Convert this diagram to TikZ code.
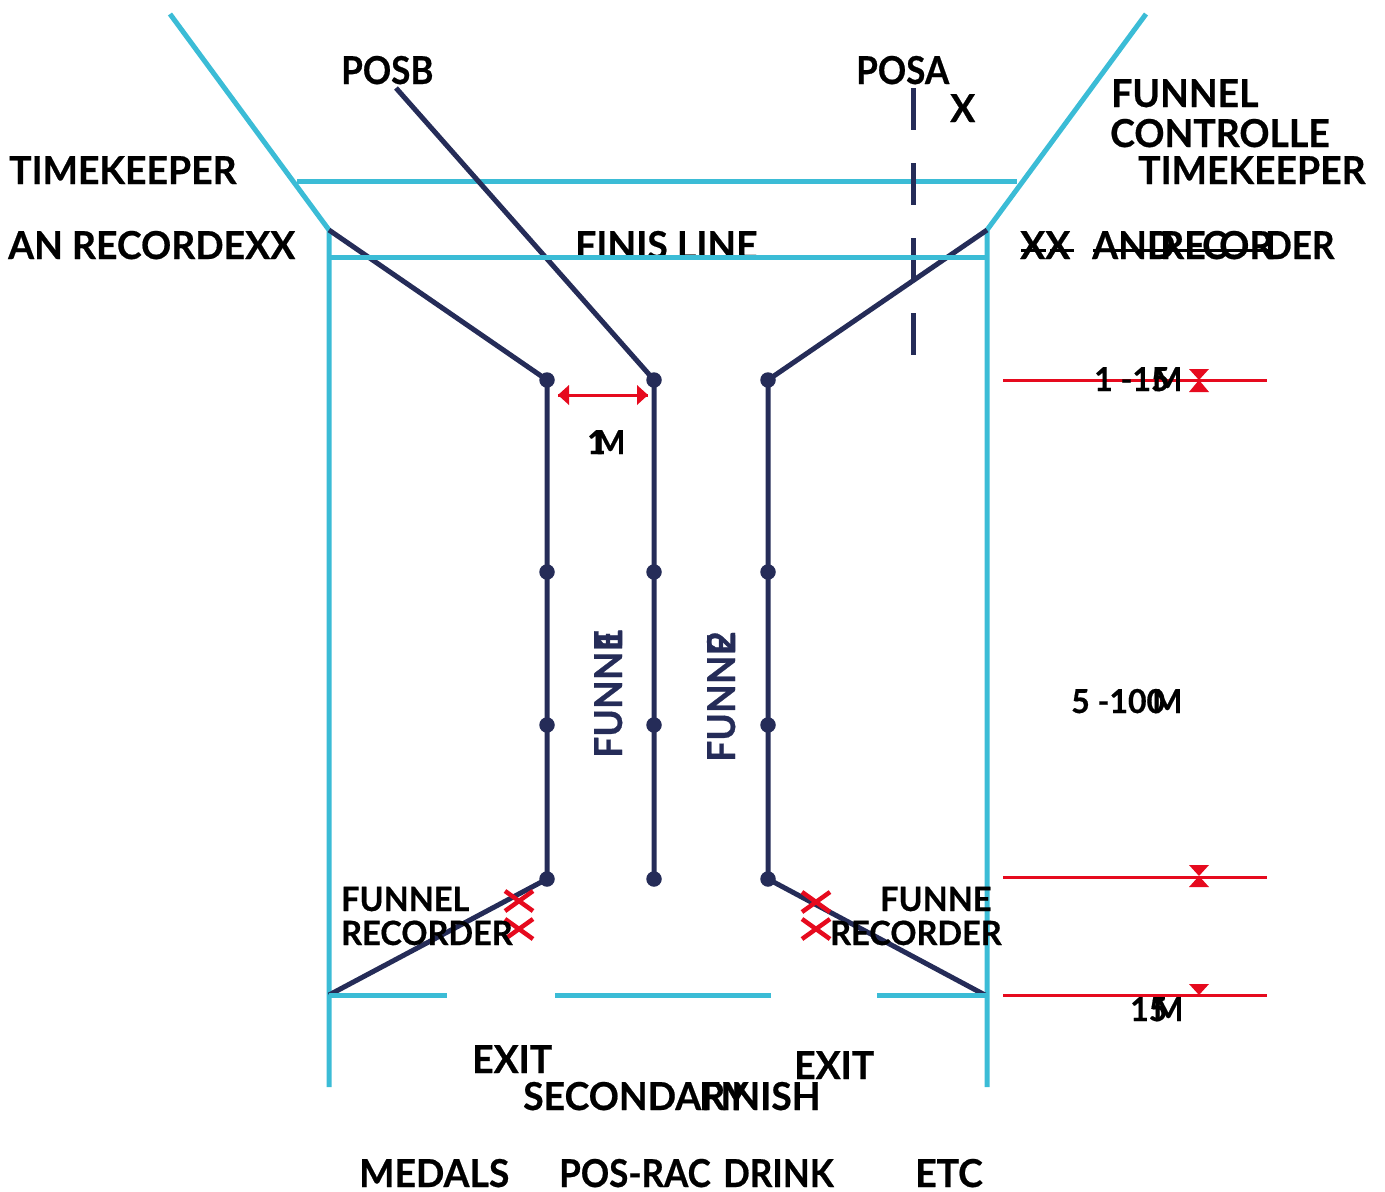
\documentclass[tikz,border=0pt]{standalone}
\usepackage{fontspec}
\setmainfont{Lato}[BoldFeatures={FakeStretch=0.97,FakeBold=0.5}]
\newfontfamily\nf{Lato}[BoldFeatures={FakeStretch=0.91,FakeBold=0.5}]
\definecolor{cy}{HTML}{3BBCD6}
\definecolor{nv}{HTML}{252C58}
\definecolor{rd}{HTML}{E60A1E}
\tikzset{x=1pt,y=-1pt,
 tx/.style={anchor=base west,inner sep=0,xshift=-1pt,font=\fontsize{38.5}{38.5}\selectfont\bfseries,text=black},
 tn/.style={tx,font=\nf\fontsize{38.5}{38.5}\selectfont\bfseries},
 ts/.style={tx,font=\fontsize{33.5}{33.5}\selectfont\bfseries},
 tm/.style={tx,font=\fontsize{33}{33}\selectfont\bfseries},
 cyl/.style={draw=cy,line width=5pt},
 nvl/.style={draw=nv,line width=5pt},
 rdl/.style={draw=rd,line width=3pt},
 dot/.style={circle,fill=nv,inner sep=0,minimum size=15.5pt},
 tri/.style={fill=rd}}
\begin{document}
\begin{tikzpicture}
\useasboundingbox (0,0) rectangle (1385,1192);
\node[tx] (finis) at (576,259) {FINIS LINE};
\fill[white] (560,261) rectangle (770,275);
% points
\coordinate (lt) at (170,14); \coordinate (lk) at (329,230); \coordinate (lb) at (329,1087);
\coordinate (rt) at (1146,14); \coordinate (rk) at (987,230); \coordinate (rb) at (987,1087);
\coordinate (h1a) at (297,181); \coordinate (h1b) at (1017,181);
\coordinate (h2a) at (329,257); \coordinate (h2b) at (987,257);
\coordinate (b1a) at (329,995); \coordinate (b1b) at (447,995);
\coordinate (b2a) at (555,995); \coordinate (b2b) at (771,995);
\coordinate (b3a) at (877,995); \coordinate (b3b) at (987,995);
\coordinate (ct) at (396,88); \coordinate (re) at (985,995);
\coordinate (da) at (913,88); \coordinate (db) at (913,355);
\foreach \n/\x in {a/547,b/654,c/768}{
 \node[dot] (\n1) at (\x,380) {};
 \node[dot] (\n2) at (\x,572) {};
 \node[dot] (\n3) at (\x,725) {};
 \node[dot] (\n4) at (\x,879) {};
}
\draw[cyl] (lt) -- (lk) -- (lb);
\draw[cyl] (rt) -- (rk) -- (rb);
\draw[cyl] (h1a) -- (h1b);
\draw[nvl] (lk) -- (a1.center) -- (a2.center) -- (a3.center) -- (a4.center) -- (b1a);
\draw[nvl] (ct) -- (b1.center) -- (b2.center) -- (b3.center) -- (b4.center);
\draw[nvl] (rk) -- (c1.center) -- (c2.center) -- (c3.center) -- (c4.center) -- (re);
\draw[nvl,dash pattern=on 42pt off 33pt] (da) -- (db);
\draw[cyl] (h2a) -- (h2b);
\draw[cyl] (b1a) -- (b1b);
\draw[cyl] (b2a) -- (b2b);
\draw[cyl] (b3a) -- (b3b);
% red
\foreach \n/\y in {p/380,q/877,r/995}{
 \coordinate (\n a) at (1003,\y); \coordinate (\n b) at (1267,\y);
 \draw[rdl] (\n a) -- (\n b);
}
\fill[tri] (1189,369) -- (1209,369) -- (1199,380) -- cycle;
\fill[tri] (1189,392) -- (1209,392) -- (1199,380) -- cycle;
\fill[tri] (1189,865) -- (1209,865) -- (1199,876) -- cycle;
\fill[tri] (1189,887) -- (1209,887) -- (1199,876) -- cycle;
\fill[tri] (1189,984) -- (1209,984) -- (1199,995) -- cycle;
\coordinate (aw) at (558,395); \coordinate (ae) at (648,395);
\draw[rdl] (aw) -- (ae);
\fill[tri] (558,395) -- (569,385) -- (569,405) -- cycle;
\fill[tri] (648,395) -- (637,385) -- (637,405) -- cycle;
\foreach \x/\y in {519/901,519/929,816/902,816/929}{
 \draw[rd,line width=4.5pt] (\x-14,\y-10) -- (\x+14,\y+10) (\x-14,\y+10) -- (\x+14,\y-10);
}
% strike lines
\coordinate (s1a) at (1021,250); \coordinate (s1b) at (1046,250);
\coordinate (s2a) at (1050,250); \coordinate (s2b) at (1074,250);
\coordinate (s3a) at (1093,250); \coordinate (s3b) at (1270,250);
% text
\node[tn] (posb) at (342,84) {POSB};
\node[tn] (posa) at (857,84) {POSA};
\node[tx] (xa) at (951,122) {X};
\node[tx] (f1) at (1112,107) {FUNNEL};
\node[tx] (f2) at (1111,147) {CONTROLLE};
\node[tx] (tkr) at (1139,184) {TIMEKEEPER};
\node[tx] (tkl) at (10,184) {TIMEKEEPER};
\node[tx] (anr) at (9,259) {AN RECORDE};
\node[tx] (xl) at (246,259) {XX};
\node[tx] (xr) at (1021,259) {XX};
\node[tx] (andn) at (1093,259) {AND};
\node[tx] (rec1) at (1161,259) {RE};
\node[tx] (rec2) at (1203,259) {C};
\node[tx] (rec3) at (1220,259) {OR};
\node[tn] (rec4) at (1266,259) {DER};
\draw[black,line width=3pt] (s1a) -- (s1b) (s2a) -- (s2b) (s3a) -- (s3b);
\node[tm] (r1) at (1095,391) {1 -15};
\node[tm] (r1m) at (1153,391) {M};
\node[tm] (r2) at (1072,713) {5 -100};
\node[tm] (r2m) at (1153,713) {M};
\node[tm] (r3) at (1131,1021) {15};
\node[tm] (r3m) at (1154,1021) {M};
\node[tm] (m1) at (588,454) {1};
\node[tm] (m1m) at (596,454) {M};
\node[tx,text=nv,rotate=90] (fu1) at (623,758) {FUNNE};
\node[tx,text=nv,rotate=90] (fu1n) at (623,650) {1};
\node[tx,text=nv,rotate=90] (fu2) at (736,762) {FUNNE};
\node[tx,text=nv,rotate=90] (fu2n) at (736,653) {2};
\node[ts] (fr1) at (342,911) {FUNNEL};
\node[ts] (fr2) at (342,945) {RECORDER};
\node[ts] (fr3) at (881,911) {FUNNE};
\node[ts] (fr4) at (831,945) {RECORDER};
\node[tx] (ex1) at (473,1073) {EXIT};
\node[tx] (ex2) at (795,1079) {EXIT};
\node[tx] (sec) at (524,1110) {SECONDARY};
\node[tx] (fin) at (700,1110) {FINISH};
\node[tx] (med) at (360,1187) {MEDALS};
\node[tn] (pos) at (560,1187) {POS-RAC};
\node[tn] (dri) at (724,1187) {DRINK};
\node[tx] (etc) at (916,1187) {ETC};
\end{tikzpicture}
\end{document}
